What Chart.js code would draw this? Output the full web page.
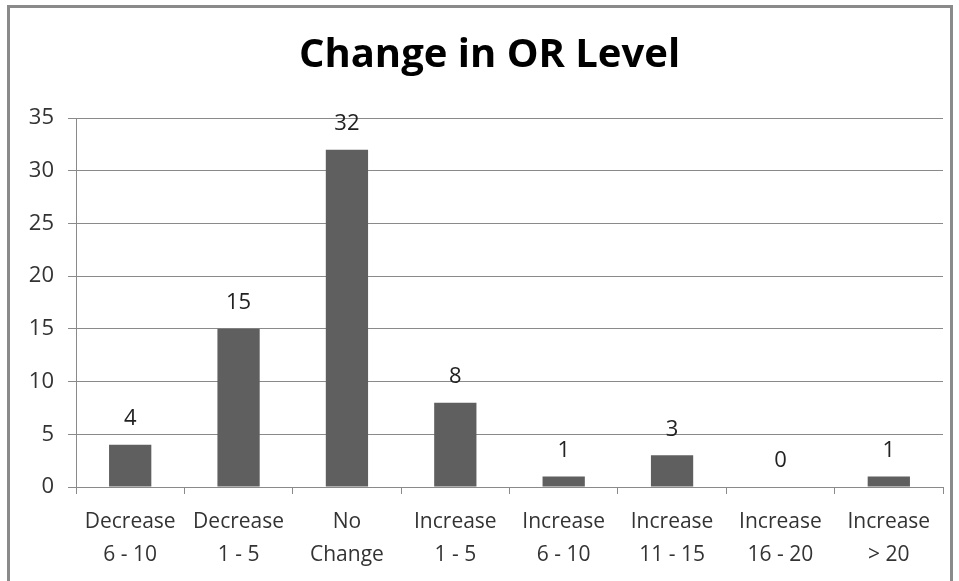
<!DOCTYPE html>
<html>
<head>
<meta charset="utf-8">
<script src="https://cdn.jsdelivr.net/npm/chart.js@4"></script>
<style>
  html, body { margin: 0; padding: 0; background: #fff; overflow: hidden; }
  #frame {
    position: absolute; left: 7px; top: 5px; width: 940px; height: 640px;
    border: 3px solid #8a8a8a; pointer-events: none;
  }
  #wrap { position: absolute; left: 0; top: 0; width: 959px; height: 581px; }
</style>
</head>
<body>
<div id="wrap"><canvas id="chart"></canvas></div>
<div id="frame"></div>
<script>
// カテゴリと値
const categories = [
  ["Decrease", "6 - 10"],
  ["Decrease", "1 - 5"],
  ["No", "Change"],
  ["Increase", "1 - 5"],
  ["Increase", "6 - 10"],
  ["Increase", "11 - 15"],
  ["Increase", "16 - 20"],
  ["Increase", "> 20"]
];
const counts = [4, 15, 32, 8, 1, 3, 0, 1];
const yTicks = [0, 5, 10, 15, 20, 25, 30, 35];

const FONT = "'Open Sans', sans-serif";

// バーの上に値を表示
const valueLabels = {
  id: "valueLabels",
  afterDatasetsDraw(chart) {
    const ctx = chart.ctx;
    const meta = chart.getDatasetMeta(0);
    ctx.save();
    ctx.font = "22px " + FONT;
    ctx.fillStyle = "#222";
    ctx.textAlign = "center";
    ctx.textBaseline = "middle";
    meta.data.forEach((bar, i) => {
      ctx.fillText(String(counts[i]), bar.x, bar.y - 26);
    });
    ctx.restore();
  }
};

// タイトルを少し右に寄せる
const shiftTitle = {
  id: "shiftTitle",
  afterLayout(chart) {
    if (chart.titleBlock) chart.titleBlock.left = 36;
  }
};

const ctx = document.getElementById("chart").getContext("2d");
new Chart(ctx, {
  type: "bar",
  data: {
    labels: categories,
    datasets: [{
      data: counts,
      backgroundColor: "#5f5f5f",
      borderWidth: 0,
      barPercentage: 0.39,
      categoryPercentage: 1
    }]
  },
  options: {
    responsive: true,
    maintainAspectRatio: false,
    animation: false,
    layout: { padding: { left: 0, right: 16, top: 0, bottom: 0 } },
    plugins: {
      legend: { display: false },
      tooltip: { enabled: false },
      title: {
        display: true,
        text: "Change in OR Level",
        color: "#000",
        font: { family: FONT, size: 40, weight: "bold", lineHeight: 1.2 },
        padding: { top: 32, bottom: 38 }
      }
    },
    scales: {
      x: {
        grid: {
          display: true,
          drawOnChartArea: false,
          drawTicks: true,
          tickLength: 7,
          color: "#8a8a8a",
          offset: true
        },
        border: { display: true, color: "#8a8a8a" },
        ticks: {
          color: "#333",
          font: { family: FONT, size: 21, lineHeight: 1.57 },
          padding: 12,
          maxRotation: 0,
          autoSkip: false
        },
        afterFit(scale) { scale.height = 94; }
      },
      y: {
        min: 0,
        max: 35,
        afterBuildTicks(scale) { scale.ticks = yTicks.map(v => ({ value: v })); },
        grid: { color: "#8a8a8a", tickLength: 8 },
        border: { display: true, color: "#8a8a8a" },
        ticks: {
          color: "#333",
          font: { family: FONT, size: 22 },
          padding: 14
        },
        afterFit(scale) { scale.width = 76; }
      }
    }
  },
  plugins: [valueLabels, shiftTitle]
});
</script>
</body>
</html>
